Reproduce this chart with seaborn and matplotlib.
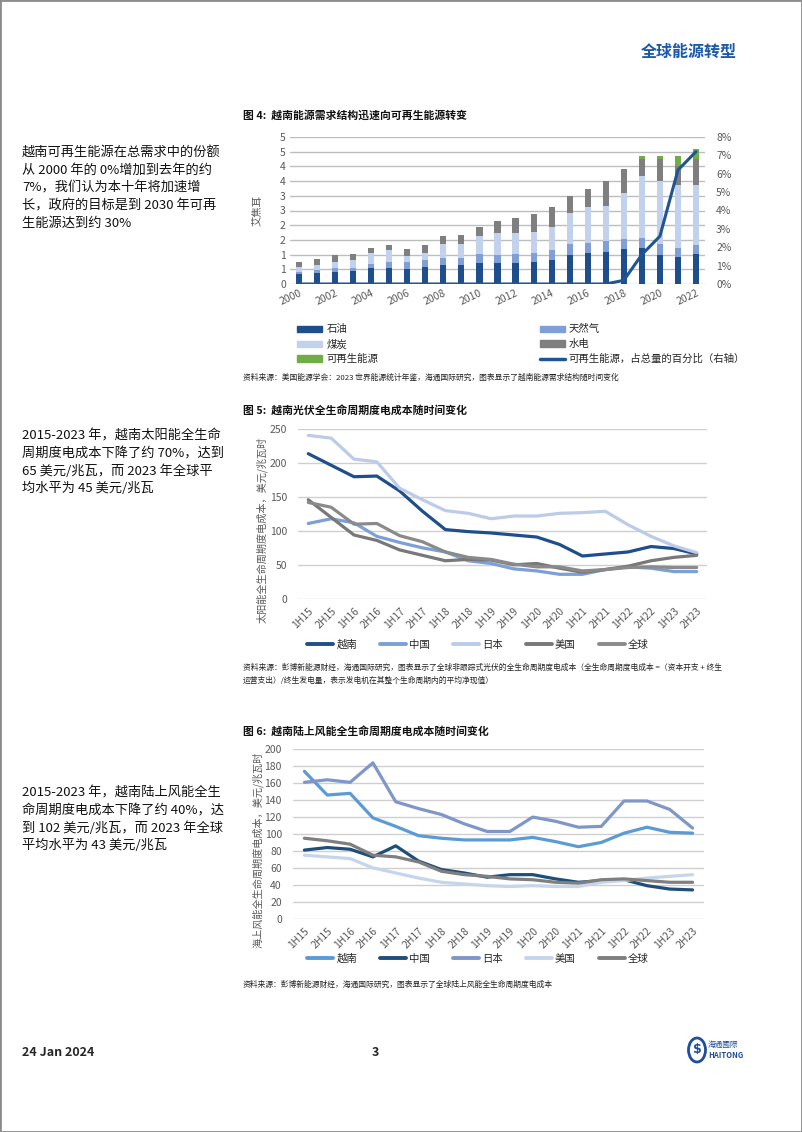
import numpy as np
import pandas as pd
import seaborn as sns
import matplotlib.pyplot as plt
from matplotlib.patches import Patch, Rectangle, Circle
from matplotlib.lines import Line2D

W, H = 802, 1132

# ---- figure 4: energy demand by source (EJ) ----
years = [str(y) for y in range(2000, 2023)]
oil = [0.34, 0.39, 0.42, 0.44, 0.56, 0.56, 0.51, 0.59, 0.63, 0.63, 0.73, 0.73, 0.73,
       0.76, 0.80, 0.98, 1.07, 1.10, 1.18, 1.22, 0.99, 0.93, 1.02]
gas = [0.08, 0.09, 0.11, 0.12, 0.12, 0.19, 0.23, 0.23, 0.26, 0.26, 0.29, 0.26, 0.29,
       0.31, 0.36, 0.37, 0.34, 0.35, 0.34, 0.34, 0.36, 0.29, 0.29]
coal = [0.17, 0.18, 0.21, 0.26, 0.37, 0.39, 0.21, 0.25, 0.47, 0.47, 0.62, 0.74, 0.71,
        0.71, 0.79, 1.06, 1.20, 1.20, 1.57, 2.10, 2.16, 2.16, 2.07]
hydro = [0.16, 0.18, 0.23, 0.20, 0.19, 0.19, 0.25, 0.26, 0.28, 0.32, 0.29, 0.42, 0.51,
         0.60, 0.66, 0.59, 0.62, 0.84, 0.83, 0.59, 0.74, 0.64, 0.87]
renew = [0] * 19 + [0.09, 0.09, 0.32, 0.34]
renew_pct = [0] * 18 + [0.2, 1.6, 2.6, 6.2, 7.2]

# ---- figure 5 / 6: LCOE (USD/MWh) ----
halves = ['1H15', '2H15', '1H16', '2H16', '1H17', '2H17', '1H18', '2H18', '1H19',
          '2H19', '1H20', '2H20', '1H21', '2H21', '1H22', '2H22', '1H23', '2H23']
countries = ['越南', '中国', '日本', '美国', '全球']

pv_vn = [214, 197, 180, 181, 159, 129, 102, 99, 97, 94, 91, 80, 63, 66, 69, 77, 74, 66]
pv_cn = [111, 118, 112, 92, 83, 75, 69, 56, 52, 44, 41, 36, 36, 43, 47, 45, 40, 40]
pv_jp = [241, 237, 206, 202, 163, 146, 130, 126, 118, 122, 122, 126, 127, 129, 109, 92, 78, 68]
pv_us = [146, 120, 94, 86, 72, 64, 56, 58, 57, 50, 52, 45, 39, 43, 48, 56, 61, 64]
pv_gl = [142, 135, 110, 111, 93, 84, 69, 61, 58, 51, 47, 47, 41, 43, 46, 47, 46, 46]

wind_vn = [174, 146, 148, 119, 109, 98, 95, 93, 93, 93, 96, 91, 85, 90, 101, 108, 102, 101]
wind_cn = [81, 84, 82, 73, 86, 68, 58, 54, 49, 52, 52, 47, 43, 45, 46, 39, 35, 34]
wind_jp = [161, 164, 161, 184, 138, 130, 123, 112, 103, 103, 120, 115, 108, 109, 139, 139, 129, 107]
wind_us = [75, 73, 71, 60, 54, 48, 43, 41, 39, 38, 39, 38, 38, 43, 45, 48, 50, 52]
wind_gl = [95, 92, 88, 75, 73, 67, 56, 52, 50, 47, 46, 43, 42, 46, 47, 45, 43, 43]

pv_colors = ['#1f4e8c', '#7b9fd6', '#bccbe8', '#787878', '#8a8a8a']
wind_colors = ['#5b9bd5', '#1f4e79', '#7f96c8', '#c5d5ec', '#7f7f7f']

sns.set_theme(style='white')
plt.rcParams['font.family'] = ['Noto Sans CJK SC', 'DejaVu Sans']

fig = plt.figure(figsize=(W / 100, H / 100), dpi=100)


def fx(px):
    return px / W


def fy(py):
    return 1 - py / H


def axes_px(left, top, right, bottom):
    return fig.add_axes([fx(left), fy(bottom), (right - left) / W, (bottom - top) / H])


TICK = '#595959'
GRID = '#cfcfcf'


def style_axes(ax):
    sns.despine(ax=ax, left=True, bottom=True, right=True, top=True)
    ax.grid(axis='y', color=GRID, lw=1)
    ax.grid(axis='x', visible=False)
    ax.set_axisbelow(True)
    ax.tick_params(length=0, labelsize=7.5, colors=TICK, pad=3)
    ax.set_xlabel('')
    ax.set_ylabel('')


# ---------------- page text ----------------
fig.text(fx(737), fy(52), '全球能源转型', color='#1a5aa6', fontsize=11.5,
         fontweight='bold', ha='right', va='center')

para1 = ['越南可再生能源在总需求中的份额', '从 2000 年的 0%增加到去年的约',
         '7%，我们认为本十年将加速增', '长，政府的目标是到 2030 年可再',
         '生能源达到约 30%']
para2 = ['2015-2023 年，越南太阳能全生命', '周期度电成本下降了约 70%，达到',
         '65 美元/兆瓦，而 2023 年全球平', '均水平为 45 美元/兆瓦']
para3 = ['2015-2023 年，越南陆上风能全生', '命周期度电成本下降了约 40%，达',
         '到 102 美元/兆瓦，而 2023 年全球', '平均水平为 43 美元/兆瓦']
for lines, y0 in [(para1, 153), (para2, 436), (para3, 793)]:
    for i, t in enumerate(lines):
        fig.text(fx(22), fy(y0 + i * 17.6), t, fontsize=9.5, color='#111111', va='center')

# ---------------- figure 4 ----------------
fig.text(fx(243), fy(115), '图 4:  越南能源需求结构迅速向可再生能源转变', fontsize=7.8,
         fontweight='bold', va='center', color='#111111')

df4 = pd.DataFrame({'year': years, 'oil': oil, 'gas': gas, 'coal': coal,
                    'hydro': hydro, 'renew': renew})
layers = ['oil', 'gas', 'coal', 'hydro', 'renew']
bar_colors = ['#1f4e8c', '#7f9fd6', '#c3d2ec', '#7f7f7f', '#70ad47']
cum = df4[layers].cumsum(axis=1)

ax4 = axes_px(290, 137, 705, 284)
for layer, col in list(zip(layers, bar_colors))[::-1]:
    sns.barplot(x=df4['year'], y=cum[layer], color=col, width=0.34, ax=ax4,
                saturation=1, linewidth=0)
ax4.set_xlim(-0.5, len(years) - 0.5)
ax4.set_ylim(0, 5)
yt = np.arange(0, 5.01, 0.5)
ax4.set_yticks(yt)
ax4.set_yticklabels([str(int(np.floor(v + 0.5))) for v in yt])
ax4.set_xticks(range(0, len(years), 2))
ax4.set_xticklabels(years[::2], rotation=25, ha='right', rotation_mode='anchor')
style_axes(ax4)
ax4.grid(axis='y', color='#bdbdbd', lw=1)

ax4r = ax4.twinx()
sns.lineplot(x=np.arange(len(years)), y=np.array(renew_pct) / 100, ax=ax4r,
             color='#1f5590', lw=2.2)
ax4r.set_ylim(0, 0.08)
ax4r.set_yticks(np.arange(0, 0.081, 0.01))
ax4r.set_yticklabels([f'{int(round(v * 100))}%' for v in np.arange(0, 0.081, 0.01)])
sns.despine(ax=ax4r, left=True, bottom=True, right=True, top=True)
ax4r.grid(False)
ax4r.tick_params(length=0, labelsize=7.5, colors=TICK, pad=8)
ax4r.set_ylabel('')
fig.text(fx(258), fy(210), '艾焦耳', rotation=90, fontsize=7.5, color=TICK,
         ha='center', va='center')

h4 = [Patch(color=bar_colors[0]), Patch(color=bar_colors[2]), Patch(color=bar_colors[4]),
      Patch(color=bar_colors[1]), Patch(color=bar_colors[3]),
      Line2D([], [], color='#1f5590', lw=2.5)]
l4 = ['石油', '煤炭', '可再生能源', '天然气', '水电', '可再生能源，占总量的百分比（右轴）']
fig.legend(h4, l4, ncol=2, loc='upper left', bbox_to_anchor=(fx(292), fy(319)),
           frameon=False, fontsize=7.5, handlelength=2.4, handleheight=0.55,
           handletextpad=0.4, columnspacing=15.5, labelspacing=0.45, borderpad=0)
fig.text(fx(243), fy(378), '资料来源：美国能源学会：2023 世界能源统计年鉴，海通国际研究，图表显示了越南能源需求结构随时间变化',
         fontsize=5.6, color='#222222', va='center')


# ---------------- line chart helper ----------------
def line_chart(box, values, colors, ymax, ystep, xpad):
    ax = axes_px(*box)
    x = np.arange(len(halves))
    long = pd.DataFrame({'x': np.tile(x, len(countries)),
                         'cost': np.concatenate(values),
                         'country': np.repeat(countries, len(halves))})
    sns.lineplot(data=long, x='x', y='cost', hue='country', hue_order=countries,
                 palette=dict(zip(countries, colors)), lw=2.3, ax=ax, legend=False,
                 estimator=None, sort=False)
    ax.set_xlim(xpad[0], len(halves) - 1 + xpad[1])
    ax.set_ylim(0, ymax)
    ax.set_yticks(np.arange(0, ymax + 0.1, ystep))
    ax.set_xticks(x)
    ax.set_xticklabels(halves, rotation=45, ha='right', rotation_mode='anchor')
    style_axes(ax)
    ax.tick_params(axis='x', pad=5)
    ax.tick_params(axis='y', pad=8)
    return ax


def line_legend(colors, ycenter):
    hs = [Line2D([], [], color=c, lw=2.8) for c in colors]
    fig.legend(hs, countries, ncol=5, loc='center', bbox_to_anchor=(fx(478), fy(ycenter)),
               frameon=False, fontsize=7.5, handlelength=2.5, handletextpad=0.3,
               columnspacing=2.2, borderpad=0)


# ---------------- figure 5 ----------------
fig.text(fx(243), fy(411), '图 5:  越南光伏全生命周期度电成本随时间变化', fontsize=7.8,
         fontweight='bold', va='center', color='#111111')
line_chart((298, 429.3, 707, 598.7), [pv_vn, pv_cn, pv_jp, pv_us, pv_gl],
           pv_colors, 250, 50, (-0.45, 0.45))
fig.text(fx(262), fy(530), '太阳能全生命周期度电成本，美元/兆瓦时', rotation=90,
         fontsize=7.3, color=TICK, ha='center', va='center')
line_legend(pv_colors, 645)
fig.text(fx(243), fy(668), '资料来源：彭博新能源财经，海通国际研究，图表显示了全球非跟踪式光伏的全生命周期度电成本（全生命周期度电成本 =（资本开支 + 终生',
         fontsize=5.6, color='#222222', va='center')
fig.text(fx(243), fy(681), '运营支出）/终生发电量，表示发电机在其整个生命周期内的平均净现值）',
         fontsize=5.6, color='#222222', va='center')

# ---------------- figure 6 ----------------
fig.text(fx(243), fy(732), '图 6:  越南陆上风能全生命周期度电成本随时间变化', fontsize=7.8,
         fontweight='bold', va='center', color='#111111')
line_chart((293, 749.3, 704, 918.7), [wind_vn, wind_cn, wind_jp, wind_us, wind_gl],
           wind_colors, 200, 20, (-0.5, 0.5))
fig.text(fx(258), fy(850), '海上风能全生命周期度电成本，美元/兆瓦时', rotation=90,
         fontsize=7.3, color=TICK, ha='center', va='center')
line_legend(wind_colors, 959)
fig.text(fx(243), fy(985), '资料来源：彭博新能源财经，海通国际研究，图表显示了全球陆上风能全生命周期度电成本',
         fontsize=5.6, color='#222222', va='center')

# ---------------- footer ----------------
fig.text(fx(22), fy(1052), '24 Jan 2024', fontsize=9, fontweight='bold', va='center')
fig.text(fx(372), fy(1052), '3', fontsize=9, fontweight='bold', va='center')
fig.add_artist(Circle((fx(697), fy(1050)), 8.5 / W, transform=fig.transFigure,
                      facecolor='white', edgecolor='#1f4e9c', lw=2))
fig.text(fx(697), fy(1050), '$', fontsize=9, fontweight='bold', color='#1f4e9c',
         ha='center', va='center', family='DejaVu Sans')
fig.text(fx(708), fy(1045), '海通國際', fontsize=5.5, color='#1f4e9c', va='center')
fig.text(fx(708), fy(1055), 'HAITONG', fontsize=5.5, color='#1f4e9c', va='center',
         fontweight='bold')

fig.add_artist(Rectangle((0, 0), 1, 1, transform=fig.transFigure, fill=False,
                         edgecolor='#8c8c8c', lw=2))

fig.savefig('out.png', dpi=100)
